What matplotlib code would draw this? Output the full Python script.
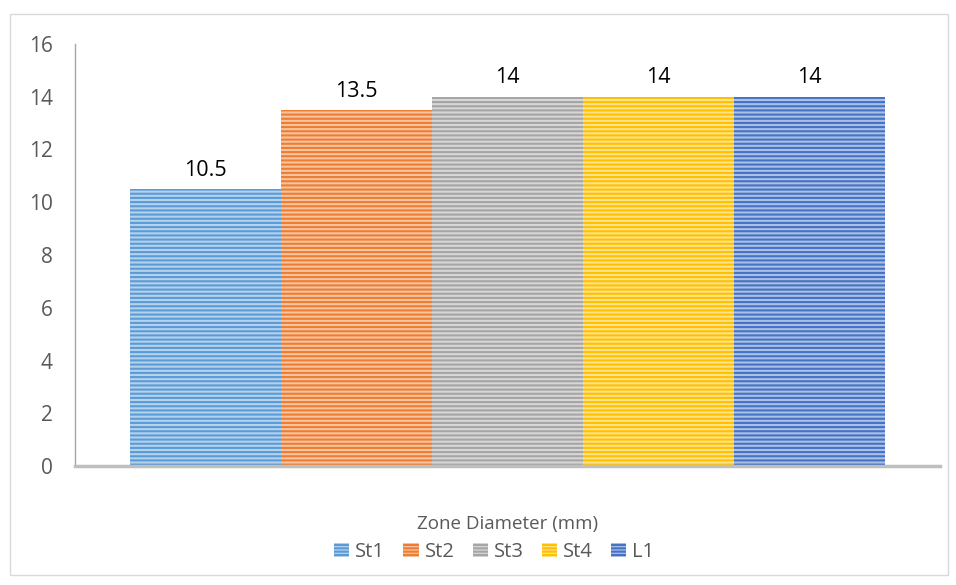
import matplotlib.pyplot as plt
import matplotlib.patches as mpatches
from matplotlib.colors import to_rgb
import numpy as np

series = ['St1', 'St2', 'St3', 'St4', 'L1']
values = [10.5, 13.5, 14, 14, 14]
value_labels = ['10.5', '13.5', '14', '14', '14']
colors = ['#5B9BD5', '#ED7D31', '#A5A5A5', '#FFC000', '#4472C4']
yticks = [0, 2, 4, 6, 8, 10, 12, 14, 16]

plt.rcParams['font.family'] = ['Open Sans', 'DejaVu Sans']
plt.rcParams['hatch.linewidth'] = 1.5


def tint(c, amount=0.55):
    r, g, b = to_rgb(c)
    return (r + (1 - r) * amount, g + (1 - g) * amount, b + (1 - b) * amount)


fig = plt.figure(figsize=(9.56, 5.85), dpi=100)
ax = fig.add_axes([0.0785, 0.2034, 0.9045, 0.7214])

# outer chart border
fig.patches.append(mpatches.Rectangle((10 / 956, 10 / 585), 938 / 956, 561 / 585,
                                      transform=fig.transFigure, fill=False,
                                      edgecolor='#D9D9D9', linewidth=1))

x = np.arange(len(series))
handles = []
for i, (name, v, c) in enumerate(zip(series, values, colors)):
    ax.bar(x[i], v, width=1.0, facecolor=tint(c), edgecolor=c, linewidth=0,
           hatch='----')
    ax.annotate(value_labels[i], (x[i], v), xytext=(0, 6), textcoords='offset points',
                ha='center', va='bottom', fontsize=15.5, color='black')
    handles.append(mpatches.Patch(facecolor=tint(c), edgecolor=c, linewidth=0,
                                  hatch='-----', label=name))

ax.set_xlim(-0.864, 4.864)
ax.set_ylim(0, 16)
ax.set_yticks(yticks)
ax.set_xticks([])
ax.tick_params(axis='y', length=0, pad=16, labelsize=15, labelcolor='#595959')

for s in ['top', 'right']:
    ax.spines[s].set_visible(False)
ax.spines['left'].set_color('#A6A6A6')
ax.spines['left'].set_linewidth(1)
ax.spines['bottom'].set_color('#BFBFBF')
ax.spines['bottom'].set_linewidth(2.5)

fig.text(0.531, (585 - 524) / 585, 'Zone Diameter (mm)', ha='center', va='center',
         fontsize=13.5, color='#595959')

fig.legend(handles=handles, loc='center', bbox_to_anchor=(0.517, (585 - 552) / 585),
           ncol=5, frameon=False, fontsize=14.5, labelcolor='#595959',
           handlelength=0.75, handleheight=0.75, handletextpad=0.3, columnspacing=0.9)

fig.savefig('out.png', dpi=100)
